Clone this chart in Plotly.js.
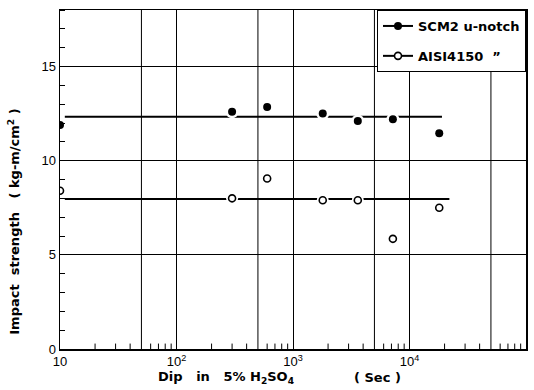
<!DOCTYPE html>
<html>
<head>
<meta charset="utf-8">
<script src="https://cdn.plot.ly/plotly-3.0.1.min.js"></script>
<style>html,body{margin:0;padding:0;background:#fff;}#chart{width:534px;height:390px;}</style>
</head>
<body>
<div id="chart"></div>
<script>
// Dip time in 5% H2SO4 (sec)
const dipTime = [10, 300, 600, 1800, 3600, 7200, 18000];
// Impact strength (kg-m/cm2)
const scm2Values = [11.9, 12.6, 12.85, 12.5, 12.1, 12.2, 11.45];
const aisiValues = [8.4, 8.0, 9.05, 7.9, 7.9, 5.85, 7.5];
// Mean lines
const scm2MeanX = [11, 19000];
const scm2MeanY = [12.33, 12.33];
const aisiMeanX = [11, 22000];
const aisiMeanY = [7.96, 7.96];
// Axis ticks
const xMajorVals = [10, 100, 1000, 10000, 100000];
const xMajorText = ['10', '10<sup>2</sup>', '10<sup>3</sup>', '10<sup>4</sup>', '10<sup>5</sup>'];
const xHalfGridVals = [50, 500, 5000, 50000];
const xMinorVals = [];
[10, 100, 1000, 10000].forEach(d => { for (let k = 2; k <= 9; k++) if (k !== 5) xMinorVals.push(d * k); });
const yMajorVals = [0, 5, 10, 15];
const seriesNames = ['SCM2 u-notch', 'AISI4150  \u201d'];
const xTitleMain = 'Dip\u00a0\u00a0\u00a0in\u00a0\u00a0\u00a05%\u00a0H<sub>2</sub>SO<sub>4</sub>';
const xTitleUnit = '(\u00a0Sec\u00a0)';
const yTitleText = 'Impact\u00a0\u00a0strength\u00a0\u00a0\u00a0(\u00a0kg-m/cm<sup>2</sup>\u00a0)';

const font = "'DejaVu Sans', sans-serif";
const titleFont = {family: font, size: 13, weight: 'bold', color: '#000'};

const traces = [
  {x: scm2MeanX, y: scm2MeanY, mode: 'lines', line: {color: '#000', width: 2}, showlegend: false, hoverinfo: 'skip'},
  {x: aisiMeanX, y: aisiMeanY, mode: 'lines', line: {color: '#000', width: 2}, showlegend: false, hoverinfo: 'skip'},
  {x: dipTime, y: scm2Values, mode: 'markers', marker: {color: '#fff', size: 13}, showlegend: false, hoverinfo: 'skip'},
  {x: dipTime, y: aisiValues, mode: 'markers', marker: {color: '#fff', size: 12}, showlegend: false, hoverinfo: 'skip'},
  {x: dipTime, y: scm2Values, mode: 'markers', name: seriesNames[0], showlegend: false,
   marker: {color: '#000', size: 8, symbol: 'circle'}},
  {x: dipTime, y: aisiValues, mode: 'markers', name: seriesNames[1], showlegend: false,
   marker: {color: '#fff', size: 7, symbol: 'circle', line: {color: '#000', width: 1.6}}},
  {x: [null], y: [null], mode: 'lines+markers', name: seriesNames[0], legendgroup: 'a',
   line: {color: '#000', width: 2}, marker: {color: '#000', size: 8}},
  {x: [null], y: [null], mode: 'lines+markers', name: seriesNames[1], legendgroup: 'b',
   line: {color: '#000', width: 2}, marker: {color: '#fff', size: 7, line: {color: '#000', width: 1.6}}}
];

const shapes = [];
xHalfGridVals.forEach(v => shapes.push({type: 'line', layer: 'below', xref: 'x', yref: 'paper',
  x0: v, x1: v, y0: 0, y1: 1, line: {color: '#000', width: 1}}));
xMinorVals.forEach(v => shapes.push({type: 'line', layer: 'below', xref: 'x', yref: 'paper',
  x0: v, x1: v, y0: 0, y1: 0.016, line: {color: '#000', width: 1}}));

const annotations = [
  {text: xTitleMain, xref: 'paper', yref: 'paper', x: 0.356, y: -0.085, xanchor: 'center', yanchor: 'middle',
   showarrow: false, font: titleFont},
  {text: xTitleUnit, xref: 'paper', yref: 'paper', x: 0.682, y: -0.085, xanchor: 'center', yanchor: 'middle',
   showarrow: false, font: titleFont},
  {text: yTitleText, xref: 'paper', yref: 'paper', x: -0.099, y: 0.375, xanchor: 'center', yanchor: 'middle',
   textangle: -90, showarrow: false, font: titleFont}
];

const layout = {
  width: 534, height: 390,
  margin: {l: 60, r: 8, t: 10, b: 41},
  paper_bgcolor: '#fff', plot_bgcolor: '#fff',
  showlegend: true,
  font: {family: font, color: '#000'},
  shapes: shapes,
  annotations: annotations,
  xaxis: {
    type: 'log', range: [1, 5],
    tickvals: xMajorVals, ticktext: xMajorText,
    ticks: '', showgrid: true, gridcolor: '#000', gridwidth: 1,
    showline: true, linecolor: '#000', linewidth: 1.5, mirror: true,
    zeroline: false,
    tickfont: {family: "'Liberation Sans', sans-serif", size: 13, color: '#000'}
  },
  yaxis: {
    range: [0, 18],
    tickvals: yMajorVals, ticktext: yMajorVals.map(String),
    ticks: '', showgrid: true, gridcolor: '#000', gridwidth: 1,
    showline: true, linecolor: '#000', linewidth: 1.5, mirror: true,
    zeroline: false,
    minor: {dtick: 1, ticks: 'inside', ticklen: 5, tickwidth: 1, tickcolor: '#000', showgrid: false},
    tickfont: {family: "'Liberation Sans', sans-serif", size: 13, color: '#000'}
  },
  legend: {
    x: 1, xanchor: 'right', y: 1, yanchor: 'top',
    bgcolor: '#fff', bordercolor: '#000', borderwidth: 1,
    font: {family: font, size: 13, weight: 'bold', color: '#000'},
    itemwidth: 30, tracegroupgap: 10
  }
};

Plotly.newPlot('chart', traces, layout, {displayModeBar: false, staticPlot: true});
</script>
</body>
</html>
